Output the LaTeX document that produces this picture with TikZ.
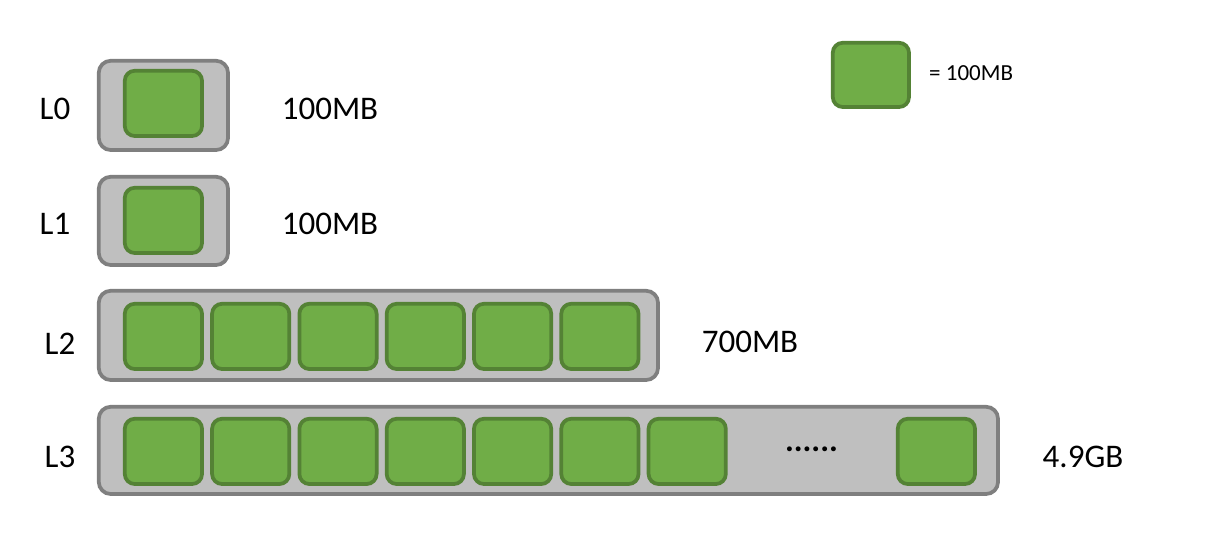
\documentclass[tikz,border=0pt]{standalone}
\usepackage{fontspec}
\setmainfont{Carlito}
\definecolor{lvlgray}{HTML}{7F7F7F}
\definecolor{lvlfill}{HTML}{BFBFBF}
\definecolor{blkline}{HTML}{548235}
\definecolor{blkfill}{HTML}{70AD47}
\begin{document}
\begin{tikzpicture}[x=1pt,y=-1pt,
  lvl/.style={draw=lvlgray, fill=lvlfill, line width=3.75pt, rounded corners=12pt, inner sep=0pt, anchor=north west},
  blk/.style={draw=blkline, fill=blkfill, line width=3.75pt, rounded corners=10pt, inner sep=0pt, anchor=north west, minimum width=77.25pt, minimum height=65.25pt},
  lbl/.style={font=\fontsize{33}{40}\selectfont, anchor=base, inner sep=0pt},
  small/.style={font=\fontsize{23}{27}\selectfont, anchor=base west, inner sep=0pt}]
\useasboundingbox (0,0) rectangle (1216,537);
% level containers
\node[lvl, minimum width=129.25pt, minimum height=89.25pt] (box0) at (96.9,58.9) {};
\node[lvl, minimum width=129.25pt, minimum height=88.25pt] (box1) at (96.9,174.9) {};
\node[lvl, minimum width=559.25pt, minimum height=89.25pt] (box2) at (96.9,288.9) {};
\node[lvl, minimum width=899.25pt, minimum height=87.25pt] (box3) at (96.9,404.9) {};
% blocks
\node[blk] (b0) at (122.9,68.9) {};
\node[blk] (b1) at (122.9,185.9) {};
\foreach \i in {0,...,5} {
  \node[blk] (b2-\i) at ({122.9+87.3*\i},301.9) {};
}
\foreach \i in {0,...,6} {
  \node[blk] (b3-\i) at ({122.9+87.3*\i},416.9) {};
}
\node[blk] (b3-last) at (895.9,416.9) {};
\node[lbl, font=\fontsize{33}{40}\selectfont\bfseries] (dots) at (811.5,451) {......};
% labels
\node[lbl] (l0) at (55,120) {L0};
\node[lbl] (l1) at (55,235) {L1};
\node[lbl] (l2) at (60,355) {L2};
\node[lbl] (l3) at (60,467) {L3};
\node[lbl] (s0) at (330,120) {100MB};
\node[lbl] (s1) at (330,235) {100MB};
\node[lbl] (s2) at (750,353) {700MB};
\node[lbl] (s3) at (1083,467) {4.9GB};
% legend
\node[blk, minimum width=76.25pt, minimum height=64.25pt] (leg) at (830.9,40.9) {};
\node[small] (legtext) at (929,81) {= 100MB};
\end{tikzpicture}
\end{document}
